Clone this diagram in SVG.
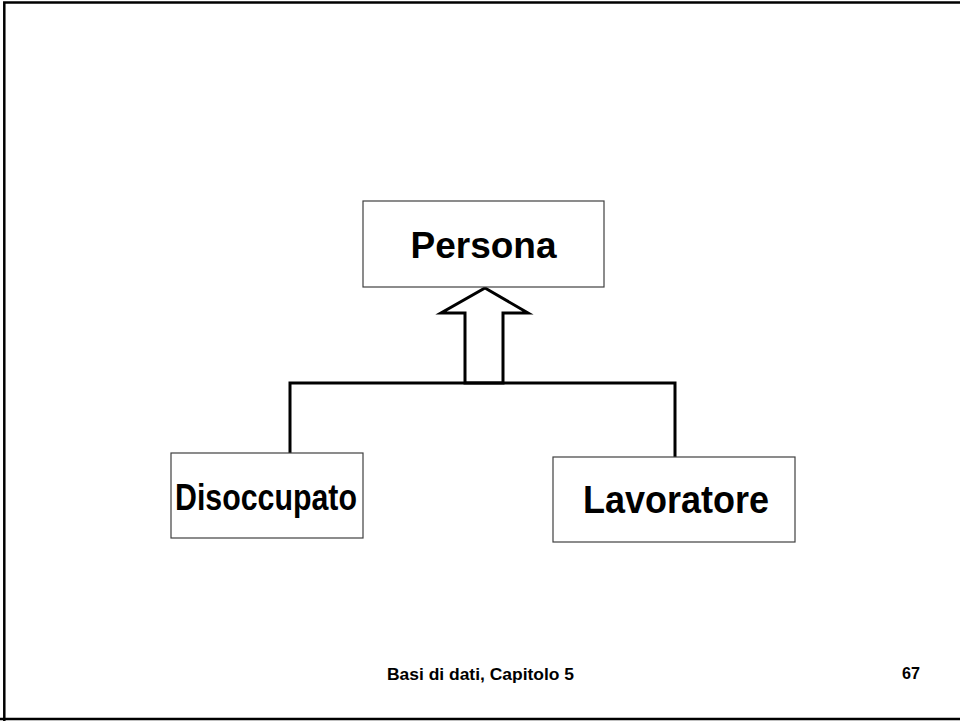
<svg xmlns="http://www.w3.org/2000/svg" width="960" height="721" viewBox="0 0 960 721">
<style>
.box{fill:#fff;stroke:#404040;stroke-width:1.2}
.lbl{font-family:"Liberation Sans",Arial,sans-serif;font-weight:bold;fill:#000}
.conn{fill:none;stroke:#000;stroke-width:3;stroke-linejoin:miter}
.frame{fill:none;stroke:#000}
</style>
<rect width="960" height="721" fill="#fff"/>
<g id="frame">
<path class="frame" d="M4.3,721 V2.5 H960" stroke-width="2.5"/>
<path class="frame" d="M0,719 H960" stroke-width="2.5"/>
</g>
<g id="connectors">
<path class="conn" d="M290,467 V383 H675 V467"/>
<path class="conn" d="M485,288 L528,313 L503,313 L503,383 L465,383 L465,313 L441,313 Z"/>
</g>
<g id="persona">
<rect class="box" x="363" y="201" width="241" height="86"/>
<text class="lbl" x="483.5" y="258" font-size="37" text-anchor="middle">Persona</text>
</g>
<g id="disoccupato">
<rect class="box" x="171" y="453" width="192" height="85"/>
<text class="lbl" x="175" y="510" font-size="37" textLength="182" lengthAdjust="spacingAndGlyphs">Disoccupato</text>
</g>
<g id="lavoratore">
<rect class="box" x="553" y="457" width="242" height="85"/>
<text class="lbl" x="583" y="512.7" font-size="38" textLength="186" lengthAdjust="spacingAndGlyphs">Lavoratore</text>
</g>
<g id="footer">
<text class="lbl" x="387" y="680" font-size="16" textLength="187" lengthAdjust="spacingAndGlyphs">Basi di dati, Capitolo 5</text>
<text class="lbl" x="902" y="679" font-size="16.5" textLength="18" lengthAdjust="spacingAndGlyphs">67</text>
</g>
</svg>
